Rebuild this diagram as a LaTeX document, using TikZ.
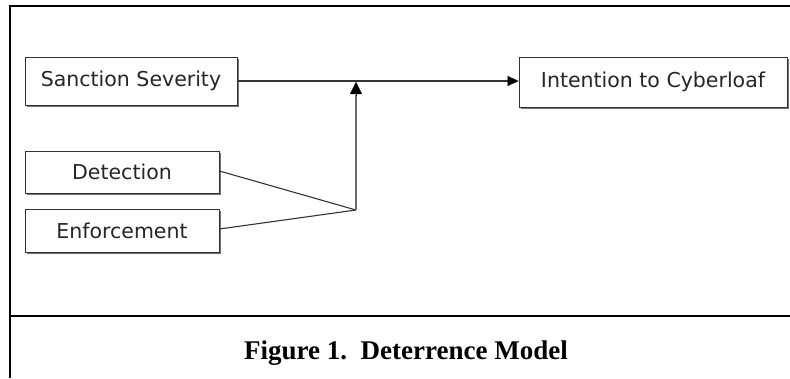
\documentclass[tikz,border=0pt]{standalone}
\usepackage{fontspec}
\setmainfont{Liberation Serif}
\newfontfamily\boxfont{DejaVu Sans}
\usetikzlibrary{arrows.meta}
\begin{document}
\begin{tikzpicture}[x=1pt,y=-1pt,
  frame/.style={line width=2.2pt,black},
  factor/.style={draw=black!80,line width=0.9pt,fill=white,inner sep=0pt,
    font=\boxfont\fontsize{20.5}{24}\selectfont,text=black!85},
  link/.style={line width=1.1pt,draw=black!80},
  tip/.style={-{Triangle[length=11pt,width=10pt,black,line width=0.5pt]}}]
\useasboundingbox (0,0) rectangle (790,378);
% outer frame and caption separator
\draw[frame] (10,378) -- (10,6) -- (790,6);
\draw[frame] (10,316) -- (790,316);
% factor boxes (with a small shadow on the lower right)
\foreach \x/\y/\w/\h in {25/57/212/48, 25/151/194/42, 25/209/194/43, 519/57/268/50}{
  \fill[black!55] (\x+2,\y+2) rectangle (\x+\w+1.5,\y+\h+1.5);
}
\node[factor,minimum width=212pt,minimum height=48pt] (ss) at (131,81) {Sanction Severity};
\node[factor,minimum width=194pt,minimum height=42pt] (det) at (122,172) {Detection};
\node[factor,minimum width=194pt,minimum height=43pt] (enf) at (122,230.5) {Enforcement};
\node[factor,minimum width=268pt,minimum height=50pt] (ic) at (653,82) {Intention to Cyberloaf};
% junction of the two moderators
\coordinate (j) at (356,210);
\coordinate (top) at (356,82);
\draw[link,tip] (ss.east) -- (ss.east -| ic.west);
\draw[link] (det.east |- 0,171) -- (j);
\draw[link] (enf.east |- 0,229) -- (j);
\draw[line width=1.8pt,draw=black!58] (j) -- (356,95);
\draw[line width=0.1pt,-{Triangle[length=12pt,width=12pt]},fill=black] (356,95.5) -- (top);
% caption
\node[font=\bfseries\fontsize{27}{32}\selectfont,anchor=base] (cap) at (406,359) {Figure 1.\ \ Deterrence Model};
\end{tikzpicture}
\end{document}
